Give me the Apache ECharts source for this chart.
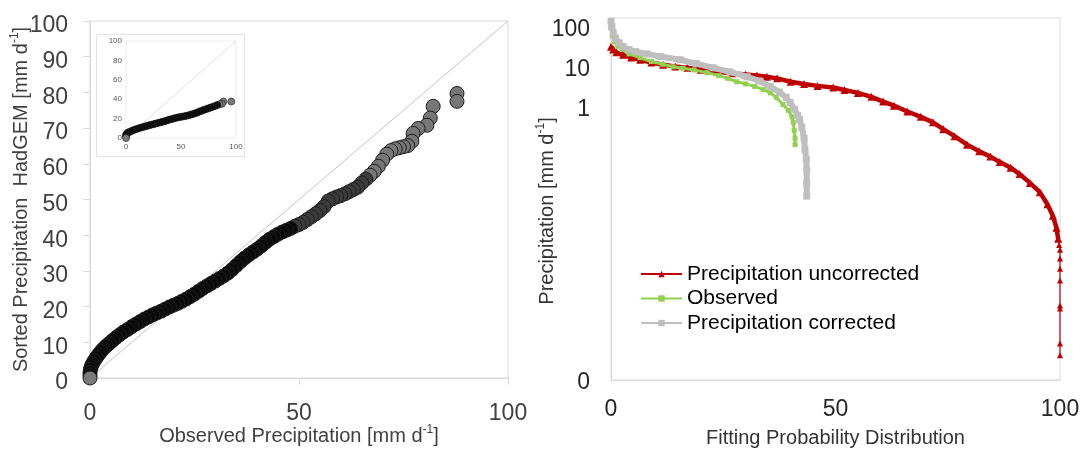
<!DOCTYPE html>
<html>
<head>
<meta charset="utf-8">
<script src="https://cdn.jsdelivr.net/npm/echarts@6/dist/echarts.min.js"></script>
<style>
  html, body { margin: 0; padding: 0; background: #fff; }
  #chart { width: 1087px; height: 453px; }
</style>
</head>
<body>
<div id="chart"></div>
<script>
// Q-Q plot: observed daily precipitation vs sorted bias-corrected HadGEM precipitation (mm/day)
const qqObserved = [0,0,0,0.1,0.3,0.6,1.0,1.5,2.0,2.6,3.2,3.9,4.6,5.4,6.2,7.1,8.0,9.0,
  10,11,12,13,14,15,16,17,18,19,20,21,22,23,24,25,26,27,28,29,30,31,32,33,34,35,36,37,38,39,
  40,41,42,43,44,45,46,47,48,49,50,51,52,53,54,55,56,57,58,59,60,61,62,63,64,65,66,67,68,69,
  70,71,72,73,74,75,76,77,77.3,78.5,80.6,81.4,82.1,87.8,87.8];
const qqHadgem = [0,0.8,1.6,2.4,3.2,4.0,4.8,5.7,6.5,7.4,8.2,9.0,9.7,10.5,11.3,12.1,12.9,13.6,
  14.4,15.1,15.8,16.5,17.1,17.7,18.2,18.7,19.3,19.9,20.4,20.9,21.5,22.1,22.8,23.5,24.3,25.1,25.8,26.5,
  27.2,27.9,28.6,29.4,30.4,31.5,32.6,33.6,34.5,35.3,36.1,37.0,38.0,38.9,39.6,40.3,40.9,41.4,41.9,42.5,
  43.0,43.6,44.4,45.2,46.0,46.9,48.0,49.6,50.2,50.7,51.1,51.6,52.2,52.8,53.4,54.6,55.7,56.8,57.9,59.3,
  61.0,62.7,63.7,64.2,64.5,64.8,65.1,66.3,68.5,69.9,70.8,72.8,76.1,77.5,79.7];

// Inset: observed vs uncorrected model precipitation
const insetObserved = [0,0,0,0.5,1.5,3,5,7,9,11,13,15,17,19,21,23,25,27,29,31,33,35,37,39,41,43,45,
  47,49,51,53,55,57,59,61,63,65,67,69,71,73,75,77,79,81,83,85,87.3,88.5,95.7];
const insetModel = [0,1.5,3,4.2,5.3,6.3,7.3,8.2,9,9.8,10.5,11.2,11.9,12.5,13.1,13.7,14.3,14.9,15.5,
  16.1,16.7,17.3,18,18.7,19.4,20,20.6,21.2,21.6,22,22.4,22.9,23.4,24.1,24.8,25.6,26.4,27.3,28.2,29,
  29.8,30.6,31.4,32.2,33.1,34,34.9,35.3,37.6,37.6];

// 1:1 reference line end points (mm/day)
const oneToOne = [0, 100];

// Exceedance curves: probability (%) vs precipitation (mm/day)
const uncorrectedX = [0,0.5,1.2,2.7,4.5,6.5,9,11.6,14.3,17,20,23.6,27,30,32.5,34.7,37,40,43,46,49.5,
  52,55,58,60.6,63,66,69,71.7,74,76.5,79.3,82,84.5,86.6,89,91,93.3,95.5,97.2,98.4,99.2,99.6,99.8,
  100,100,100,100,100,100,100,100];
const uncorrectedY = [32,27,23,20,17,15,12.8,11.2,10.2,9.4,8.4,7.5,6.9,6.4,6.0,5.6,5.1,4.2,3.7,3.3,3.0,
  2.6,2.2,1.75,1.33,1.05,0.75,0.55,0.4,0.27,0.18,0.11,0.075,0.055,0.04,0.029,0.02,0.012,0.007,0.0035,
  0.0018,0.0009,0.00047,0.00033,0.00025,0.00015,0.000083,0.000042,0.00001,0.0000083,0.0000011,0.00000056];
const observedX = [0,0.3,0.8,1.5,2.5,4,6.5,9,11.5,13.8,16,18.5,21.4,24,26,28,30,32,33.9,35.5,36.8,
  38.3,39.5,40.3,40.6,40.8,41,41];
const observedY = [95,60,42,33,27,21,16.8,13.5,11.5,10,9.2,8.3,7.1,6.0,5.1,4.2,3.7,3.2,2.66,2.2,1.7,
  1.12,0.8,0.55,0.4,0.25,0.16,0.11];
const correctedX = [0,0.2,0.5,1,1.8,2.7,4,5.5,8,11,15.4,19,22.8,26.5,30.3,33,35.4,37.5,39,39.9,40.9,
  41.6,42,42.5,43,43.2,43.5,43.6,43.6,43.6];
const correctedY = [140,100,70,52,40,32,27,24,21,18,15,12,9.4,7.4,5.6,4.4,3.2,2.3,1.7,1.26,0.85,0.6,
  0.47,0.3,0.16,0.084,0.047,0.025,0.012,0.0056];

const seriesNames = ['Precipitation uncorrected', 'Observed', 'Precipitation corrected'];
const logLabels = [1, 10, 100];

const pairs = (xs, ys) => xs.map((x, i) => [x, ys[i]]);
const FONT = '"Liberation Sans", Arial, sans-serif';
const AXIS_GRAY = '#d9d9d9';

// the uncorrected curve is drawn as a dense band, then a thin drop at 100 %
const uncorrected = pairs(uncorrectedX, uncorrectedY);
const tailFrom = uncorrectedX.findIndex(x => x >= 99.6);

const chart = echarts.init(document.getElementById('chart'), null, { renderer: 'canvas' });

const unitName = (label) => label + ' [mm d{sup|-1}]';
const nameStyle = (size, color) => ({
  fontFamily: FONT, fontSize: size, color: color, lineHeight: 24,
  rich: { sup: { fontFamily: FONT, fontSize: 12, lineHeight: 24, verticalAlign: 'top', color: color, padding: [0, 0, 9, 0] } }
});

chart.setOption({
  animation: false,
  backgroundColor: '#ffffff',
  textStyle: { fontFamily: FONT },
  graphic: [{
    type: 'rect', z: 0,
    shape: { x: 96.5, y: 34.5, width: 148, height: 122 },
    style: { fill: '#ffffff', stroke: '#e3e3e3', lineWidth: 1 }
  }],
  grid: [
    { left: 90, right: 579, top: 21, bottom: 71, show: true, borderColor: AXIS_GRAY, borderWidth: 1, backgroundColor: 'transparent' },
    { left: 126, right: 851, top: 41, bottom: 315, show: true, borderColor: '#ececec', borderWidth: 1, backgroundColor: 'transparent', z: 3 },
    { left: 611, right: 27, top: 18, bottom: 71, show: true, borderColor: AXIS_GRAY, borderWidth: 1, backgroundColor: 'transparent' }
  ],
  xAxis: [
    {
      gridIndex: 0, type: 'value', min: 0, max: 100, interval: 50,
      axisLine: { lineStyle: { color: AXIS_GRAY } },
      axisTick: { show: true, length: 7, lineStyle: { color: AXIS_GRAY } },
      splitLine: { show: false },
      axisLabel: { fontSize: 23, color: '#404040', margin: 24, fontFamily: FONT },
      name: unitName('Observed Precipitation'), nameLocation: 'middle', nameGap: 46, nameMoveOverlap: false,
      nameTextStyle: nameStyle(20, '#404040')
    },
    {
      gridIndex: 1, type: 'value', min: 0, max: 100, interval: 50,
      axisLine: { show: false }, axisTick: { show: false }, splitLine: { show: false },
      axisLabel: { fontSize: 8, color: '#595959', margin: 5, fontFamily: FONT }
    },
    {
      gridIndex: 2, type: 'value', min: 0, max: 100, interval: 50,
      axisLine: { lineStyle: { color: AXIS_GRAY } },
      axisTick: { show: false }, splitLine: { show: false },
      axisLabel: { fontSize: 23, color: '#262626', margin: 18, fontFamily: FONT },
      name: 'Fitting Probability Distribution', nameLocation: 'middle', nameGap: 48, nameMoveOverlap: false,
      nameTextStyle: { fontFamily: FONT, fontSize: 20, color: '#333333' }
    }
  ],
  yAxis: [
    {
      gridIndex: 0, type: 'value', min: 0, max: 100, interval: 10,
      axisLine: { show: true, lineStyle: { color: AXIS_GRAY } },
      axisTick: { show: true, length: 7, lineStyle: { color: AXIS_GRAY } },
      splitLine: { show: false },
      axisLabel: { fontSize: 23, color: '#404040', margin: 22, fontFamily: FONT, showMaxLabel: true,
        verticalAlign: 'top', lineHeight: 10 },
      name: unitName('Sorted Precipitation  HadGEM'), nameLocation: 'middle', nameGap: 57, nameRotate: 90,
      nameMoveOverlap: false,
      nameTextStyle: nameStyle(20, '#404040')
    },
    {
      gridIndex: 1, type: 'value', min: 0, max: 100, interval: 20,
      axisLine: { show: false }, axisTick: { show: false }, splitLine: { show: false },
      axisLabel: { fontSize: 8, color: '#595959', margin: 4, fontFamily: FONT }
    },
    {
      gridIndex: 2, type: 'log', logBase: 10, min: 1.33e-7, max: 168,
      axisLine: { show: true, lineStyle: { color: AXIS_GRAY } },
      axisTick: { show: false }, splitLine: { show: false },
      axisLabel: {
        fontSize: 23, color: '#262626', margin: 21, fontFamily: FONT,
        verticalAlign: 'top', lineHeight: 6,
        showMinLabel: true, showMaxLabel: false,
        formatter: (v, i) => {
          if (i === 0) return '0';
          const hit = logLabels.find(d => Math.abs(v - d) < d * 1e-6);
          return hit !== undefined ? String(hit) : '';
        }
      },
      name: unitName('Precipitation'), nameLocation: 'middle', nameGap: 52, nameRotate: 90,
      nameMoveOverlap: false,
      nameTextStyle: Object.assign(nameStyle(20, '#333333'), { padding: [0, 24, 0, 0] })
    }
  ],
  legend: {
    show: true, orient: 'vertical', left: 640, top: 262, padding: 0,
    data: seriesNames, selectedMode: false,
    itemWidth: 41, itemHeight: 8, itemGap: 0.5,
    textStyle: { fontFamily: FONT, fontSize: 21, color: '#000000', lineHeight: 24 },
    lineStyle: { width: 2 }
  },
  visualMap: [
    {
      type: 'piecewise', show: false, seriesIndex: 1, dimension: 1,
      pieces: [
        { lte: 0.4, color: '#7a7a7a' },
        { gt: 0.4, lte: 42, color: '#0a0a0a' },
        { gt: 42, lte: 56, color: '#3c3c3c' },
        { gt: 56, color: '#777777' }
      ]
    },
    {
      type: 'piecewise', show: false, seriesIndex: 3, dimension: 1,
      pieces: [
        { lte: 0.4, color: '#7a7a7a' },
        { gt: 0.4, lte: 34.5, color: '#0a0a0a' },
        { gt: 34.5, color: '#7a7a7a' }
      ]
    }
  ],
  series: [
    {
      type: 'line', xAxisIndex: 0, yAxisIndex: 0, silent: true, symbol: 'none', z: 1,
      data: [[oneToOne[0], oneToOne[0]], [oneToOne[1], oneToOne[1]]],
      lineStyle: { color: '#c4c4c4', width: 1 }
    },
    {
      type: 'scatter', xAxisIndex: 0, yAxisIndex: 0, z: 2,
      data: pairs(qqObserved, qqHadgem).reverse(),
      symbol: 'circle', symbolSize: 14,
      itemStyle: { borderColor: '#1e1e1e', borderWidth: 1, opacity: 1 }
    },
    {
      type: 'line', xAxisIndex: 1, yAxisIndex: 1, silent: true, symbol: 'none', z: 4,
      data: [[oneToOne[0], oneToOne[0]], [oneToOne[1], oneToOne[1]]],
      lineStyle: { color: '#dedede', width: 1 }
    },
    {
      type: 'scatter', xAxisIndex: 1, yAxisIndex: 1, z: 5,
      data: pairs(insetObserved, insetModel).reverse(),
      symbol: 'circle', symbolSize: 7,
      itemStyle: { borderColor: '#1e1e1e', borderWidth: 0.6, opacity: 1 }
    },
    {
      name: seriesNames[0], type: 'line', xAxisIndex: 2, yAxisIndex: 2, z: 2,
      data: uncorrected.slice(0, tailFrom + 1),
      symbol: 'triangle', symbolSize: 8, showAllSymbol: true,
      lineStyle: { color: '#c00000', width: 4.5 },
      itemStyle: { color: '#c00000' }
    },
    {
      name: seriesNames[0], type: 'line', xAxisIndex: 2, yAxisIndex: 2, z: 2,
      data: uncorrected.slice(tailFrom),
      symbol: 'triangle', symbolSize: 6, showAllSymbol: true,
      lineStyle: { color: '#c00000', width: 1.2 },
      itemStyle: { color: '#c00000' }
    },
    {
      name: seriesNames[1], type: 'line', xAxisIndex: 2, yAxisIndex: 2, z: 3,
      data: pairs(observedX, observedY),
      symbol: 'rect', symbolSize: 5, showAllSymbol: true,
      lineStyle: { color: '#92d050', width: 3 },
      itemStyle: { color: '#92d050' }
    },
    {
      name: seriesNames[2], type: 'line', xAxisIndex: 2, yAxisIndex: 2, z: 4,
      data: pairs(correctedX, correctedY),
      symbol: 'rect', symbolSize: 7, showAllSymbol: true,
      lineStyle: { color: '#bfbfbf', width: 6 },
      itemStyle: { color: '#bfbfbf' }
    }
  ]
});
</script>
</body>
</html>
